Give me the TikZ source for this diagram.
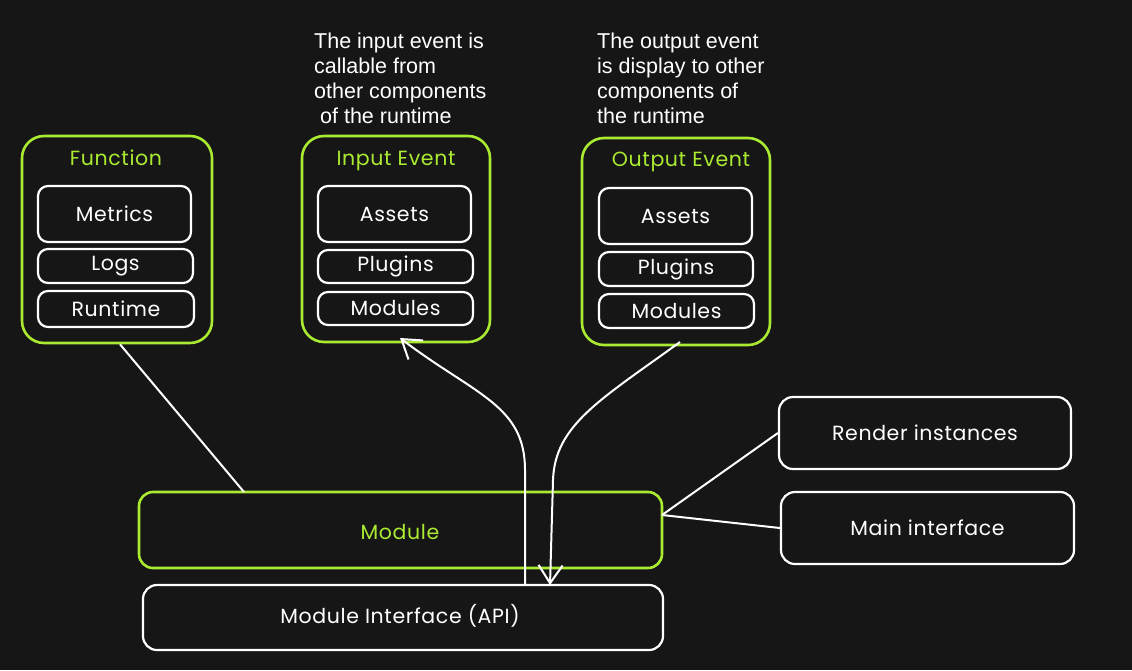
\documentclass[tikz,border=0pt]{standalone}
\usepackage{fontspec}
\setmainfont{Liberation Sans}
\newfontfamily\hand[LetterSpace=3]{Poppins}
\usetikzlibrary{arrows.meta}
\definecolor{bg}{RGB}{22,22,22}
\definecolor{lime}{RGB}{170,235,50}
\tikzset{
  handfont/.style={font=\hand\fontsize{20.5}{24}\selectfont},
  outerbox/.style={draw=lime, line width=2.6pt, rounded corners=22pt, fill=bg},
  innerbox/.style={draw=white, line width=2.2pt, rounded corners=10pt, fill=bg, text=white, handfont},
  bigbox/.style={draw=white, line width=2.2pt, rounded corners=14pt, fill=bg, text=white, handfont},
  greenbox/.style={draw=lime, line width=2.6pt, rounded corners=14pt, fill=bg, text=lime, handfont},
  title/.style={text=lime, handfont, inner sep=0pt},
  note/.style={text=white, align=left, anchor=north west, inner sep=0pt, font=\fontsize{21.5}{25}\selectfont},
  conn/.style={draw=white, line width=2pt},
  arr/.style={draw=white, line width=2pt, -{Straight Barb[length=18pt,width=24pt,line width=2pt]}},
}
\begin{document}
\begin{tikzpicture}[x=1pt,y=-1pt]
\fill[bg] (0,0) rectangle (1132,670);
\useasboundingbox (0,0) rectangle (1132,670);

% annotations
\node[note] (n1) at (314,33) {The input event is\\callable from\\other components\\\ of the runtime};
\node[note] (n2) at (597,33) {The output event\\is display to other\\components of\\the runtime};

% Function
\node[outerbox, minimum width=190pt, minimum height=207pt] (fun) at (117,239.5) {};
\node[title] (funt) at (116,158) {Function};
\node[innerbox, minimum width=153pt, minimum height=56pt] (metrics) at (114.5,214) {Metrics};
\node[innerbox, minimum width=155pt, minimum height=34pt] (logs) at (115.5,266) {Logs};
\node[innerbox, minimum width=156pt, minimum height=36pt] (runtime) at (116,309) {Runtime};

% Input Event
\node[outerbox, minimum width=188pt, minimum height=206pt] (inev) at (396,239) {};
\node[title] (inevt) at (396,161) {Input Event};
\node[innerbox, minimum width=153pt, minimum height=56pt] (assets1) at (394.5,214) {Assets};
\node[innerbox, minimum width=155pt, minimum height=33pt] (plugins1) at (395.5,266.5) {Plugins};
\node[innerbox, minimum width=155pt, minimum height=33pt] (modules1) at (395.5,308.5) {Modules};

% Output Event
\node[outerbox, minimum width=188pt, minimum height=207pt] (outev) at (676,241.5) {};
\node[title] (outevt) at (681,162) {Output Event};
\node[innerbox, minimum width=153pt, minimum height=56pt] (assets2) at (675.5,216) {Assets};
\node[innerbox, minimum width=154pt, minimum height=34pt] (plugins2) at (676,269) {Plugins};
\node[innerbox, minimum width=155pt, minimum height=34pt] (modules2) at (676.5,311) {Modules};

% Module, API
\node[greenbox, minimum width=523pt, minimum height=76pt] (module) at (400.5,530) {};
\node[text=lime, handfont] (modulet) at (400,532) {Module};
\node[bigbox, minimum width=520pt, minimum height=65pt] (api) at (403,617.5) {};
\node[text=white, handfont] (apit) at (400,616) {Module Interface (API)};

% right boxes
\node[bigbox, minimum width=292pt, minimum height=72pt] (render) at (925,433) {Render instances};
\node[bigbox, minimum width=293pt, minimum height=72pt] (main) at (927.5,528) {Main interface};

% connectors
\coordinate (mr) at (662,515);
\draw[conn] (fun.south) ++(3,0) coordinate (fs) -- (244,492) coordinate (mt);
\draw[conn] (mr) -- (render.west);
\draw[conn] (mr) -- (main.west);
\draw[arr] (525,585) coordinate (a1) -- (525,470) .. controls (525,405) and (475,395) .. (400,338);
\draw[arr] (680,342) coordinate (a2) .. controls (600,400) and (555,425) .. (553,480) -- (550,585);
\end{tikzpicture}
\end{document}
